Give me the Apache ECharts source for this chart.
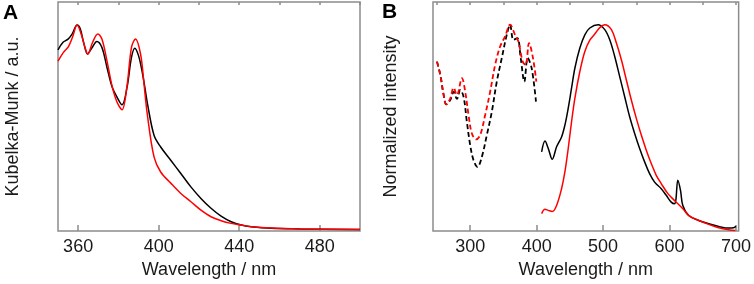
<!DOCTYPE html>
<html>
<head>
<meta charset="utf-8">
<script src="https://cdn.jsdelivr.net/npm/echarts@6/dist/echarts.min.js"></script>
<style>
    html, body { margin: 0; padding: 0; background: #fff; }
    #chart { width: 754px; height: 284px; }
</style>
</head>
<body>
<div id="chart"></div>
<script>
// ---- panel A: Kubelka-Munk (diffuse reflectance) ----
const kmWlBlack = [350, 352.5, 355, 357, 359.5, 361, 362.7, 364.7, 366.8, 369.3, 371.8, 374.3, 376.8, 379.3, 381.8, 384.3, 386.5, 388.2, 390, 391.5, 393, 394.5, 397.7, 401, 406, 411, 416, 421, 426, 431, 436, 441, 446, 456, 470, 500];
const kmBlack = [0.878, 0.915, 0.930, 0.954, 0.998, 0.981, 0.915, 0.858, 0.887, 0.919, 0.890, 0.794, 0.700, 0.649, 0.612, 0.697, 0.842, 0.886, 0.850, 0.787, 0.705, 0.614, 0.464, 0.407, 0.343, 0.279, 0.214, 0.158, 0.110, 0.072, 0.045, 0.029, 0.021, 0.013, 0.010, 0.007];
const kmWlRed = [350, 352.7, 355.2, 357.2, 359.5, 361.5, 363.5, 364.8, 367.2, 369.8, 371.8, 374.3, 376.8, 379.3, 381.8, 384.3, 386.5, 388.5, 391, 392.7, 394.3, 397.7, 401, 406, 411, 416, 421, 426, 431, 436, 441, 446, 456, 470, 500];
const kmRed = [0.823, 0.866, 0.894, 0.939, 0.998, 0.955, 0.887, 0.858, 0.915, 0.955, 0.931, 0.826, 0.705, 0.625, 0.588, 0.705, 0.890, 0.931, 0.858, 0.715, 0.570, 0.359, 0.286, 0.232, 0.182, 0.142, 0.101, 0.069, 0.050, 0.037, 0.029, 0.021, 0.014, 0.010, 0.007];
const ticksA = [360, 380, 400, 420, 440, 460, 480, 500];
const labelsA = [360, 400, 440, 480];

// ---- panel B: excitation (dashed) and emission (solid) ----
const exWlBlack = [250, 255, 260, 264, 270, 275, 280, 285, 290, 295, 300, 305, 311, 317.5, 325, 332.5, 340, 347.5, 355, 360, 365, 371, 376, 381.5, 386.5, 392.5, 399];
const exBlack = [0.821, 0.757, 0.660, 0.614, 0.635, 0.675, 0.640, 0.684, 0.651, 0.529, 0.416, 0.343, 0.310, 0.359, 0.465, 0.578, 0.724, 0.838, 0.951, 1.000, 0.927, 0.935, 0.838, 0.724, 0.838, 0.789, 0.627];
const exWlRed = [250, 255, 260, 264, 270, 275, 280, 287.5, 292.5, 297.5, 302.5, 309, 315, 322.5, 330, 337.5, 345, 352.5, 360, 367.5, 372.5, 379, 383.5, 388.5, 394.5, 399.5];
const exRed = [0.821, 0.757, 0.660, 0.614, 0.643, 0.695, 0.659, 0.741, 0.675, 0.562, 0.473, 0.444, 0.465, 0.562, 0.675, 0.805, 0.894, 0.943, 1.000, 0.951, 0.919, 0.821, 0.805, 0.911, 0.838, 0.724];
const emWlBlack = [407.5, 412.5, 417.5, 423.5, 430, 437.5, 442.5, 447.5, 452.5, 457.5, 465, 472.5, 480, 492.5, 502.5, 510, 517.5, 525, 532.5, 540, 547.5, 555, 562.5, 570, 577.5, 587.5, 595, 602.5, 607.5, 609.5, 612.5, 616.5, 620, 629, 644, 659, 674, 689, 696.5, 700];
const emBlack = [0.383, 0.436, 0.400, 0.348, 0.408, 0.456, 0.513, 0.595, 0.692, 0.789, 0.887, 0.951, 0.984, 1.000, 0.976, 0.927, 0.846, 0.748, 0.651, 0.554, 0.473, 0.400, 0.335, 0.278, 0.237, 0.205, 0.173, 0.140, 0.132, 0.150, 0.246, 0.197, 0.124, 0.075, 0.051, 0.035, 0.022, 0.014, 0.016, 0.022];
const emWlRed = [407.5, 412.5, 417.5, 423.5, 430, 437.5, 442.5, 447.5, 452.5, 457.5, 465, 472.5, 480, 487.5, 495, 502.5, 512.5, 520, 527.5, 535, 542.5, 550, 557.5, 565, 572.5, 580, 587.5, 597.5, 607.5, 620, 629, 644, 659, 674, 689, 699];
const emRed = [0.084, 0.105, 0.100, 0.095, 0.124, 0.205, 0.286, 0.400, 0.529, 0.643, 0.773, 0.870, 0.925, 0.955, 0.986, 1.000, 0.976, 0.911, 0.830, 0.732, 0.635, 0.546, 0.465, 0.392, 0.327, 0.270, 0.230, 0.181, 0.148, 0.108, 0.075, 0.051, 0.032, 0.016, 0.006, 0.002];
const ticksB = [250, 300, 350, 400, 450, 500, 550, 600, 650, 700];
const labelsB = [300, 400, 500, 600, 700];

const FONT = "Liberation Sans";
const AXIS_GREY = "#8c8c8c";

function pairs(xs, ys) {
    return xs.map((x, i) => [x, ys[i]]);
}

function majorAxis(grid, min, max, labels) {
    return {
        type: "value", gridIndex: grid, min: min, max: max,
        name: "Wavelength / nm", nameLocation: "middle", nameGap: 27,
        nameTextStyle: { fontFamily: FONT, fontSize: 18, color: "#1a1a1a" },
        axisLine: { show: false },
        axisTick: { show: true, inside: true, length: 6, customValues: labels,
            lineStyle: { color: AXIS_GREY, width: 1.5 } },
        axisLabel: { customValues: labels, margin: 7, fontFamily: FONT, fontSize: 18, color: "#1a1a1a" },
        splitLine: { show: false }
    };
}

function minorAxis(grid, min, max, ticks) {
    return {
        type: "value", gridIndex: grid, min: min, max: max,
        axisLine: { show: false },
        axisTick: { show: true, inside: true, length: 3, customValues: ticks,
            lineStyle: { color: AXIS_GREY, width: 1.5 } },
        axisLabel: { show: false },
        splitLine: { show: false }
    };
}

function yAxis(grid, name, gap) {
    return {
        type: "value", gridIndex: grid, min: 0, max: 1.11,
        name: name, nameLocation: "middle", nameGap: gap,
        nameTextStyle: { fontFamily: FONT, fontSize: 18, color: "#1a1a1a" },
        axisLine: { show: false }, axisTick: { show: false },
        axisLabel: { show: false }, splitLine: { show: false }
    };
}

function line(grid, data, color, dashed) {
    return {
        type: "line", xAxisIndex: grid * 2, yAxisIndex: grid,
        data: data, showSymbol: false, smooth: 0.35, animation: false,
        lineStyle: { color: color, width: dashed ? 1.8 : 1.5, type: dashed ? [5, 3] : "solid" }
    };
}

const chart = echarts.init(document.getElementById("chart"));
chart.setOption({
    animation: false,
    title: [
        { text: "A", left: 3, top: 3, padding: 0,
          textStyle: { fontFamily: FONT, fontSize: 21, fontWeight: "bold", color: "#000" } },
        { text: "B", left: 382, top: 2, padding: 0,
          textStyle: { fontFamily: FONT, fontSize: 21, fontWeight: "bold", color: "#000" } }
    ],
    grid: [
        { left: 58, top: 2, width: 302, height: 229, show: true, borderColor: AXIS_GREY, borderWidth: 1.5 },
        { left: 433, top: 2, width: 306, height: 229, show: true, borderColor: AXIS_GREY, borderWidth: 1.5 }
    ],
    xAxis: [
        majorAxis(0, 350, 500, labelsA),
        minorAxis(0, 350, 500, ticksA),
        majorAxis(1, 244, 704, labelsB),
        minorAxis(1, 244, 704, ticksB)
    ],
    yAxis: [
        yAxis(0, "Kubelka-Munk / a.u.", 36),
        yAxis(1, "Normalized intensity", 33)
    ],
    series: [
        line(0, pairs(kmWlBlack, kmBlack), "#000000", false),
        line(0, pairs(kmWlRed, kmRed), "#ff0000", false),
        line(1, pairs(exWlBlack, exBlack), "#000000", true),
        line(1, pairs(exWlRed, exRed), "#ff0000", true),
        line(1, pairs(emWlBlack, emBlack), "#000000", false),
        line(1, pairs(emWlRed, emRed), "#ff0000", false)
    ]
});
</script>
</body>
</html>
